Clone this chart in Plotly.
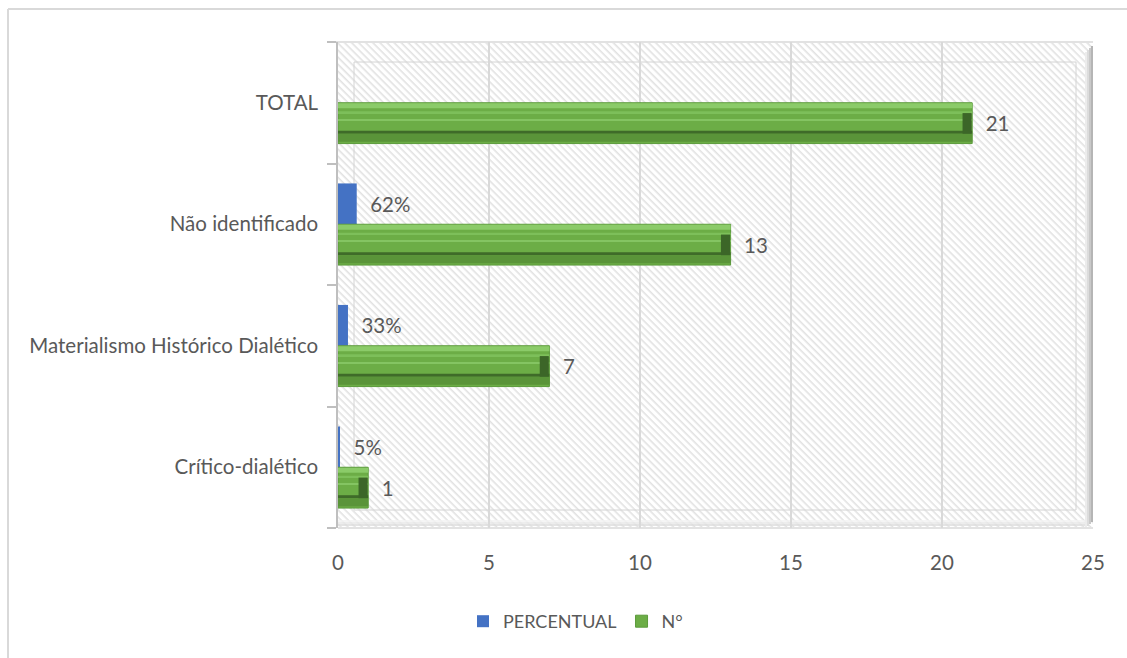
import plotly.graph_objects as go
import urllib.parse

# Categories (bottom to top) and series values
categorias = ["Crítico-dialético", "Materialismo Histórico Dialético", "Não identificado", "TOTAL"]
percentual = [0.05, 0.33, 0.62, None]
percentual_txt = ["5%", "33%", "62%", ""]
numero = [1, 7, 13, 21]

W, H = 1127, 658
L, R, T, B = 338, 34, 42, 130
PW, PH = W - L - R, H - T - B

FONT = "Lato"
FS = 20.5
GRAY_TXT = "#595959"
BLUE = "#4472C4"

BAR_W = 0.336  # bar thickness in category units


def px_x(px):
    return (px - L) / PW


def px_y(py):
    return (H - B - py) / PH


fig = go.Figure()

# Percent series (upper half of each band)
fig.add_trace(go.Bar(
    y=categorias, x=percentual, orientation="h", name="PERCENTUAL",
    marker=dict(color=BLUE, line=dict(width=0)),
    width=BAR_W, offset=0.0,
    text=["  " + t if t else "" for t in percentual_txt],
    textposition="outside", cliponaxis=False,
    textfont=dict(family=FONT, size=FS, color=GRAY_TXT),
))

# Count series (lower half of each band), with bevel strips layered on top
fig.add_trace(go.Bar(
    y=categorias, x=numero, orientation="h", name="N°",
    marker=dict(color="#6cad46", line=dict(color="#5b9a3b", width=1)),
    width=BAR_W, offset=-BAR_W,
    text=["  " + str(v) for v in numero],
    textposition="outside", cliponaxis=False,
    textfont=dict(family=FONT, size=FS, color=GRAY_TXT),
))

bevel = [
    # (offset from band centre, thickness, colour)
    (-0.045, 0.040, "#8bcb69"),
    (-0.085, 0.015, "#7dbf5a"),
    (-0.145, 0.010, "#84c462"),
    (-0.255, 0.025, "#3f6b29"),
    (-0.322, 0.067, "#5a9439"),
]
for off, th, col in bevel:
    fig.add_trace(go.Bar(
        y=categorias, x=numero, orientation="h", showlegend=False,
        marker=dict(color=col, line=dict(width=0)),
        width=th, offset=off, hoverinfo="skip",
    ))

# Dark end caps at the right of each count bar
cap = 0.3
fig.add_trace(go.Bar(
    y=categorias, x=[cap] * len(numero), base=[v - cap - 0.02 for v in numero],
    orientation="h", showlegend=False,
    marker=dict(color="#3c6628", line=dict(width=0)),
    width=0.17, offset=-0.255, hoverinfo="skip",
))

# Hatched wall behind the bars
hatch_svg = (
    "<svg xmlns='http://www.w3.org/2000/svg' width='%d' height='%d' preserveAspectRatio='none'>"
    "<defs><pattern id='h' width='5' height='5' patternUnits='userSpaceOnUse' patternTransform='rotate(45)'>"
    "<rect width='5' height='5' fill='#ffffff'/><rect width='5' height='1.6' fill='#e2e2e2'/></pattern></defs>"
    "<rect width='100%%' height='100%%' fill='url(#h)'/></svg>" % (PW, PH)
)
hatch_uri = "data:image/svg+xml;charset=utf-8," + urllib.parse.quote(hatch_svg)

shapes = []
# outer chart border (top and left visible)
shapes.append(dict(type="line", xref="paper", yref="paper", x0=px_x(8), x1=px_x(1200),
                   y0=px_y(9), y1=px_y(9), line=dict(color="#d9d9d9", width=2), layer="below"))
shapes.append(dict(type="line", xref="paper", yref="paper", x0=px_x(8), x1=px_x(8),
                   y0=px_y(9), y1=px_y(700), line=dict(color="#d9d9d9", width=2), layer="below"))
# back wall outline
shapes.append(dict(type="rect", xref="paper", yref="paper", x0=px_x(354), x1=px_x(1076),
                   y0=px_y(510), y1=px_y(62), line=dict(color="#d4d4d4", width=1), layer="below"))
# right and bottom edge shading of the wall
for i, col in enumerate(["#ececec", "#dcdcdc", "#c9c9c9", "#b5b5b5"]):
    shapes.append(dict(type="rect", xref="paper", yref="paper",
                       x0=px_x(1085 + 2 * i), x1=px_x(1087 + 2 * i),
                       y0=px_y(528 - 2 * i), y1=px_y(42 + 2 * (3 - i) + 4),
                       line=dict(width=0), fillcolor=col, layer="below"))
for i, col in enumerate(["#f3f3f3", "#e8e8e8", "#dddddd"]):
    shapes.append(dict(type="rect", xref="paper", yref="paper",
                       x0=px_x(338), x1=px_x(1085),
                       y0=px_y(522 + 2 * i), y1=px_y(520 + 2 * i),
                       line=dict(width=0), fillcolor=col, layer="below", opacity=0.8))
# top and bottom edges of the wall
shapes.append(dict(type="line", xref="paper", yref="paper", x0=px_x(330), x1=px_x(1093),
                   y0=1, y1=1, line=dict(color="#e2e2e2", width=2), layer="below"))
shapes.append(dict(type="line", xref="paper", yref="paper", x0=0, x1=px_x(1093),
                   y0=0, y1=0, line=dict(color="#e2e2e2", width=2), layer="below"))

fig.update_layout(
    width=W, height=H,
    margin=dict(l=L, r=R, t=T, b=B),
    paper_bgcolor="white", plot_bgcolor="rgba(0,0,0,0)",
    barmode="overlay",
    font=dict(family=FONT, size=FS, color=GRAY_TXT),
    xaxis=dict(range=[0, 25], tickvals=[0, 5, 10, 15, 20, 25], showgrid=True,
               gridcolor="#d9d9d9", gridwidth=2, zeroline=False, showline=False,
               ticks="", ticklabelstandoff=20,
               tickfont=dict(family=FONT, size=FS, color=GRAY_TXT)),
    yaxis=dict(categoryorder="array", categoryarray=categorias, showgrid=False,
               showline=True, linecolor="#bfbfbf", linewidth=1.5,
               ticks="outside", tickson="boundaries", ticklen=9, tickcolor="#bfbfbf",
               tickwidth=1.5, ticklabelstandoff=14,
               tickfont=dict(family=FONT, size=FS, color=GRAY_TXT)),
    legend=dict(orientation="h", x=px_x(463), y=px_y(603), xanchor="left", yanchor="top",
                font=dict(family=FONT, size=18, color=GRAY_TXT), traceorder="normal",
                itemwidth=30),
    images=[dict(source=hatch_uri, xref="paper", yref="paper", x=0, y=1,
                 sizex=1, sizey=1, sizing="stretch", layer="below")],
    shapes=shapes,
    showlegend=True,
)

fig.write_html("out.html")
